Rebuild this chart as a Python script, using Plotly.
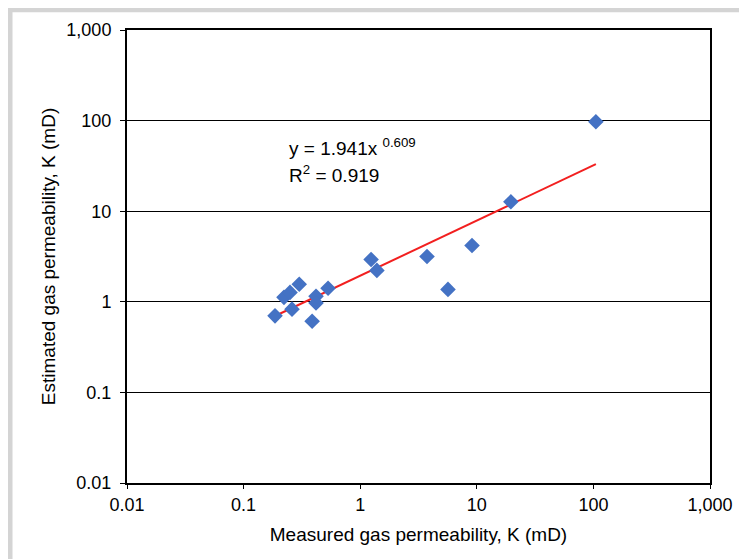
"""
Log-log scatter of measured vs estimated gas permeability with a power-law fit.
"""

import plotly.graph_objects as go

# measured and estimated gas permeability (mD)
measured_k = [0.186, 0.222, 0.25, 0.26, 0.30, 0.387, 0.418, 0.418, 0.53,
              1.24, 1.39, 3.74, 5.66, 9.1, 19.6, 105]
estimated_k = [0.70, 1.12, 1.27, 0.83, 1.56, 0.61, 1.15, 0.97, 1.41,
               2.93, 2.22, 3.16, 1.37, 4.18, 12.7, 97]

# power-law fit y = a * x^b
fit_a = 1.941
fit_b = 0.609
fit_r2 = 0.919

tick_vals = [0.01, 0.1, 1, 10, 100, 1000]
tick_text = ["0.01", "0.1", "1", "10", "100", "1,000"]

FONT = "Liberation Sans, Arial, sans-serif"

fit_x = [min(measured_k), max(measured_k)]
fit_y = [fit_a * x ** fit_b for x in fit_x]

fig = go.Figure()

fig.add_trace(go.Scatter(
    x=fit_x, y=fit_y, mode="lines",
    line=dict(color="#f21f1f", width=2),
    hoverinfo="skip",
))

fig.add_trace(go.Scatter(
    x=measured_k, y=estimated_k, mode="markers",
    marker=dict(symbol="diamond", size=12, color="#4472c4"),
))

axis_common = dict(
    type="log",
    tickvals=tick_vals,
    ticktext=tick_text,
    ticks="outside",
    tickcolor="black",
    showline=True,
    linecolor="black",
    linewidth=2,
    mirror=True,
    tickfont=dict(family=FONT, size=18, color="black"),
    zeroline=False,
    range=[-2, 3],
)

fig.update_xaxes(
    **axis_common,
    ticklen=4,
    showgrid=False,
    title=dict(text="Measured gas permeability, K (mD)",
               font=dict(family=FONT, size=19, color="black"), standoff=14),
)
fig.update_yaxes(
    **axis_common,
    ticklen=5,
    ticklabelstandoff=5,
    showgrid=True,
    gridcolor="black",
    gridwidth=1,
    title=dict(text="Estimated gas permeability, K (mD)",
               font=dict(family=FONT, size=19, color="black"), standoff=6),
)

# equation of the trend line
fig.add_annotation(
    xref="paper", yref="paper", x=(287 - 127) / 583, y=(483 - 145) / 456,
    xanchor="left", yanchor="middle", showarrow=False,
    text=f"y = {fit_a}x <sup>{fit_b}</sup>",
    font=dict(family=FONT, size=19, color="black"),
)
fig.add_annotation(
    xref="paper", yref="paper", x=(287 - 127) / 583, y=(483 - 172) / 456,
    xanchor="left", yanchor="middle", showarrow=False,
    text=f"R<sup>2</sup> = {fit_r2}",
    font=dict(family=FONT, size=19, color="black"),
)

# light grey frame around the whole figure
fig.add_shape(
    type="rect", xref="paper", yref="paper",
    x0=(10 - 127) / 583, x1=(745.5 - 127) / 583,
    y0=(483 - 575) / 456, y1=(483 - 6.7) / 456,
    line=dict(color="#d4d4d4", width=5),
    layer="below",
)

# the page adds an 8px body margin, so the figure is 8px smaller
fig.update_layout(
    width=739,
    height=551,
    margin=dict(l=119, r=37, t=19, b=76),
    paper_bgcolor="white",
    plot_bgcolor="white",
    showlegend=False,
    font=dict(family=FONT),
)

fig.write_html("out.html")
